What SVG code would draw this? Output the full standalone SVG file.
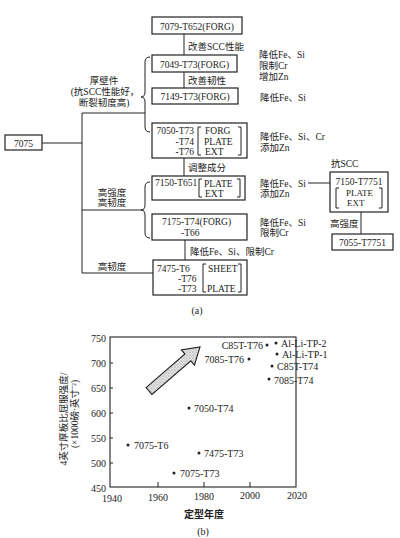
<svg xmlns="http://www.w3.org/2000/svg" width="400" height="538" viewBox="0 0 400 538">
<style>
text{font-family:"Liberation Serif","Noto Sans CJK SC",serif;font-size:10px;fill:#222}
.b text{font-size:9.5px}
.cn{font-size:9.5px}
.m{text-anchor:middle}
.e{text-anchor:end}
.box{fill:#fff;stroke:#222;stroke-width:1.2}
.ln{fill:none;stroke:#222;stroke-width:1}
.brk{fill:none;stroke:#222;stroke-width:1}
.dot{fill:#222}
</style>
<defs>
<pattern id="stip" width="3" height="3" patternUnits="userSpaceOnUse">
<rect width="3" height="3" fill="#e4e4e4"/>
<circle cx="1" cy="1" r="0.6" fill="#777"/>
<circle cx="2.5" cy="2.4" r="0.4" fill="#999"/>
</pattern>
</defs>
<rect width="400" height="538" fill="#fff"/>

<g id="connectors">
<path class="ln" d="M42,143 H82 M82,113 V273 M82,113 H145 M82,210 H143 M82,273 H153"/>
<path class="ln" d="M150,57 Q145,57 145,62 V92 Q145,97 141,97 Q145,97 145,102 V127 Q145,132 150,132"/>
<path class="ln" d="M150,182 Q145,182 145,187 V205 Q145,210 141,210 Q145,210 145,215 V233 Q145,238 150,238"/>
<path class="ln" d="M184,34 V55 M184,72 V88 M184,158 V176 M185,240 V260 M308,183 H330 M361,212 V234"/>
</g>

<g id="labels-a">
<text class="cn m" x="104" y="84">厚壁件</text>
<text class="cn m" x="105" y="95">(抗SCC性能好，</text>
<text class="cn m" x="104" y="106">断裂韧度高)</text>
<text class="cn m" x="112" y="196">高强度</text>
<text class="cn m" x="112" y="206">高韧度</text>
<text class="cn m" x="112" y="270">高韧度</text>
<text class="cn" x="188" y="50">改善SCC性能</text>
<text class="cn" x="188" y="84">改善韧性</text>
<text class="cn" x="188" y="171">调整成分</text>
<text class="cn" x="190" y="255">降低Fe、Si、限制Cr</text>
<text class="cn" x="259" y="58">降低Fe、Si</text>
<text class="cn" x="259" y="69">限制Cr</text>
<text class="cn" x="259" y="80">增加Zn</text>
<text class="cn" x="260" y="101">降低Fe、Si</text>
<text class="cn" x="260" y="140">降低Fe、Si、Cr</text>
<text class="cn" x="260" y="151">添加Zn</text>
<text class="cn" x="260" y="187">降低Fe、Si</text>
<text class="cn" x="260" y="197">添加Zn</text>
<text class="cn" x="260" y="226">降低Fe、Si</text>
<text class="cn" x="260" y="236">限制Cr</text>
<text class="cn" x="331" y="167">抗SCC</text>
<text class="cn" x="330" y="227">高强度</text>
<text class="m" x="197" y="314">(a)</text>
</g>

<g id="n7075" class="b">
<rect class="box" x="5" y="135" width="37" height="15"/>
<text class="m" x="23.5" y="146.5">7075</text>
</g>
<g id="n7079" class="b">
<rect class="box" x="152" y="17" width="90" height="17"/>
<text class="m" x="197" y="29.5">7079-T652(FORG)</text>
</g>
<g id="n7049" class="b">
<rect class="box" x="152" y="55" width="85" height="17"/>
<text class="m" x="194.5" y="67.5">7049-T73(FORG)</text>
</g>
<g id="n7149" class="b">
<rect class="box" x="152" y="88" width="86" height="16"/>
<text class="m" x="195" y="100">7149-T73(FORG)</text>
</g>
<g id="n7050" class="b">
<rect class="box" x="152" y="123" width="95" height="35"/>
<text class="e" x="194" y="134">7050-T73</text>
<text class="e" x="194" y="144.5">-T74</text>
<text class="e" x="194" y="155">-T76</text>
<path class="brk" d="M201,127 H198 V155 H201 M238,127 H241 V155 H238"/>
<text x="205" y="134">FORG</text>
<text x="204" y="144.5">PLATE</text>
<text x="205" y="155">EXT</text>
</g>
<g id="n7150" class="b">
<rect class="box" x="152" y="176" width="93" height="24"/>
<text x="155" y="186">7150-T651</text>
<path class="brk" d="M202,179 H199 V197 H202 M237,179 H240 V197 H237"/>
<text x="204" y="186.5">PLATE</text>
<text x="205" y="196.5">EXT</text>
</g>
<g id="n7175" class="b">
<rect class="box" x="152" y="214" width="95" height="26"/>
<text x="162" y="225">7175-T74(FORG)</text>
<text x="181" y="236">-T66</text>
</g>
<g id="n7475" class="b">
<rect class="box" x="153" y="260" width="94" height="35"/>
<text x="157" y="272">7475-T6</text>
<text x="178" y="282">-T76</text>
<text x="178" y="292">-T73</text>
<path class="brk" d="M206,264 H203 V292 H206 M238,264 H241 V292 H238"/>
<text x="208" y="272">SHEET</text>
<text x="207" y="292">PLATE</text>
</g>
<g id="n7150T7751" class="b">
<rect class="box" x="330" y="172" width="58" height="40"/>
<text class="m" x="359" y="185">7150-T7751</text>
<path class="brk" d="M339,188 H336 V208 H339 M379,188 H382 V208 H379"/>
<text x="346" y="196" style="font-size:9px">PLATE</text>
<text x="347" y="206" style="font-size:9px">EXT</text>
</g>
<g id="n7055" class="b">
<rect class="box" x="332" y="234" width="61" height="16"/>
<text class="m" x="362.5" y="246">7055-T7751</text>
</g>

<g id="chart">
<rect x="110" y="337" width="186" height="150" fill="none" stroke="#222" stroke-width="1.1"/>
<path class="ln" d="M158,487 V482 M204,487 V482 M250,487 V482 M110,363 H113 M110,388 H113 M110,413 H113 M110,438 H113 M110,463 H113"/>
<text class="e" x="106" y="342">750</text>
<text class="e" x="106" y="367">700</text>
<text class="e" x="106" y="392">650</text>
<text class="e" x="106" y="417">600</text>
<text class="e" x="106" y="442">550</text>
<text class="e" x="106" y="467">500</text>
<text class="e" x="106" y="492">450</text>
<text class="m" x="112" y="502">1940</text>
<text class="m" x="158" y="501">1960</text>
<text class="m" x="204" y="500">1980</text>
<text class="m" x="250" y="499">2000</text>
<text class="m" x="297" y="499">2020</text>
<text class="cn m" transform="translate(63,419) rotate(-90)" dy="3.5">4英寸厚板比屈服强度/</text>
<text class="cn m" transform="translate(74,414) rotate(-90)" dy="3.5">(×1000磅·英寸⁻²)</text>
<text class="m" x="204" y="518" style="font-weight:bold">定型年度</text>
<text class="m" x="203" y="535">(b)</text>
<path d="M146.06,387.59 L184.96,354.04 L181.37,349.88 L200,347 L194.43,365.02 L190.84,360.86 L151.94,394.41 Z" fill="url(#stip)" stroke="#222" stroke-width="1.1" stroke-linejoin="miter"/>
<circle class="dot" cx="128" cy="445" r="1.5"/><text x="134" y="449">7075-T6</text>
<circle class="dot" cx="174" cy="473" r="1.5"/><text x="180" y="477">7075-T73</text>
<circle class="dot" cx="199" cy="453" r="1.5"/><text x="204" y="457">7475-T73</text>
<circle class="dot" cx="189" cy="408" r="1.5"/><text x="194" y="412">7050-T74</text>
<circle class="dot" cx="249" cy="359" r="1.5"/><text class="e" x="244" y="363">7085-T76</text>
<circle class="dot" cx="267" cy="345" r="1.5"/><text class="e" x="263" y="349">C85T-T76</text>
<circle class="dot" cx="276" cy="343" r="1.5"/><text x="281" y="347">Al-Li-TP-2</text>
<circle class="dot" cx="277" cy="354" r="1.5"/><text x="282" y="358">Al-Li-TP-1</text>
<circle class="dot" cx="272" cy="366" r="1.5"/><text x="277" y="370">C85T-T74</text>
<circle class="dot" cx="269" cy="379" r="1.5"/><text x="274" y="384">7085-T74</text>
</g>
</svg>
